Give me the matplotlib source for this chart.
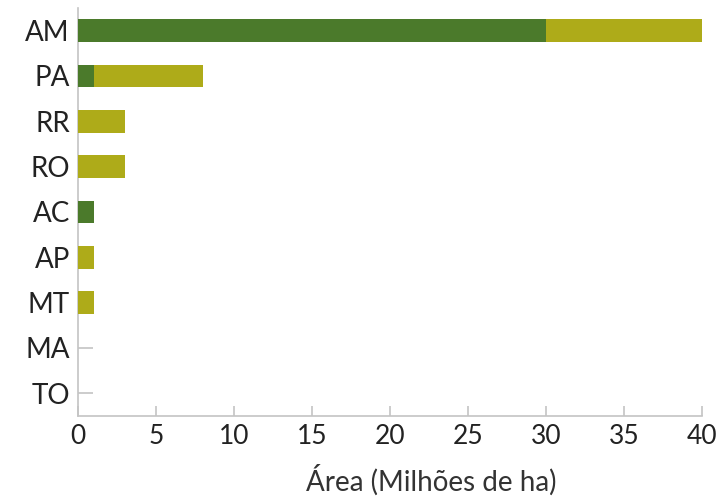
import matplotlib.pyplot as plt
import numpy as np

plt.rcParams['font.family'] = ['Lato', 'DejaVu Sans']

states = ['AM', 'PA', 'RR', 'RO', 'AC', 'AP', 'MT', 'MA', 'TO']
dark_vals = [30, 1, 0, 0, 1, 0, 0, 0, 0]
light_vals = [10, 7, 3, 3, 0, 1, 1, 0, 0]

dark_color = '#4b7a2b'
light_color = '#aeab19'
axis_color = '#c4c4c4'

fig = plt.figure(figsize=(7.24, 5.01), dpi=100, facecolor='white')
ax = fig.add_axes([0.108, 0.170, 0.862, 0.814])

y = np.arange(len(states))
ax.barh(y, dark_vals, height=0.5, color=dark_color, zorder=3)
ax.barh(y, light_vals, left=dark_vals, height=0.5, color=light_color, zorder=3)

ax.set_xlim(0, 40)
ax.set_ylim(8.5, -0.5)
ax.set_yticks(y)
ax.set_yticklabels(states)
ax.set_xticks(np.arange(0, 41, 5))

for side in ['top', 'right']:
    ax.spines[side].set_visible(False)
for side in ['left', 'bottom']:
    ax.spines[side].set_color(axis_color)
    ax.spines[side].set_linewidth(1.2)

ax.tick_params(axis='x', direction='in', length=7, width=1.2, color=axis_color,
               labelsize=19, labelcolor='#222222', pad=6)
ax.tick_params(axis='y', direction='in', length=11, width=1.2, color=axis_color,
               labelsize=20, labelcolor='#222222', pad=6)

ax.set_xlabel('Área (Milhões de ha)', fontsize=20, color='#333333')
ax.xaxis.set_label_coords(0.566, -0.12)

plt.savefig('out.png', dpi=100, facecolor='white')
plt.close()
